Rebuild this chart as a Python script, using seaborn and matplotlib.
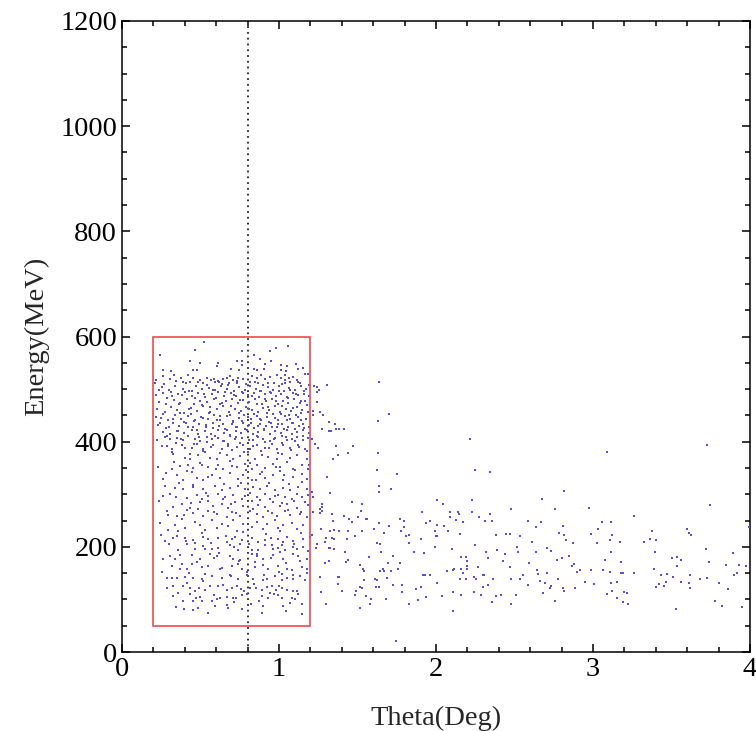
import numpy as np
import pandas as pd
import matplotlib
matplotlib.use("Agg")
import matplotlib.pyplot as plt
import seaborn as sns
from matplotlib.patches import Rectangle
from matplotlib.ticker import MultipleLocator

# ---- data (theta in deg, energy in MeV) ----
box_top = [
    (0.522, 590), (0.244, 565), (0.465, 574), (0.762, 572), (0.981, 579), (1.059, 582),
    (0.944, 572), (0.435, 553), (0.499, 550), (0.613, 550), (0.734, 554), (0.762, 554),
    (0.840, 564), (0.879, 557), (0.911, 548), (0.947, 553), (1.010, 545), (1.049, 544),
    (1.108, 547), (1.119, 538), (1.150, 540), (0.263, 536), (0.312, 535), (0.454, 537),
    (0.480, 536), (0.603, 544), (0.692, 539), (0.743, 537), (0.762, 546), (0.840, 538),
    (0.862, 536), (0.906, 539), (1.010, 537), (1.044, 535), (1.165, 529), (0.216, 517),
    (0.263, 525), (0.333, 526), (0.305, 519), (0.378, 521), (0.418, 526), (0.450, 521),
    (0.497, 518), (0.541, 522), (0.569, 518), (0.588, 520), (0.613, 516), (0.641, 519),
    (0.666, 521), (0.688, 524), (0.705, 518), (0.741, 522), (0.773, 519), (0.826, 524),
    (0.858, 521), (0.885, 527), (0.911, 519), (0.943, 523), (0.985, 527), (1.010, 521),
    (1.038, 518), (1.066, 521), (1.091, 523), (1.112, 518), (1.038, 526), (0.391, 513),
    (0.433, 513), (0.518, 511), (0.592, 513), (0.635, 510), (0.683, 511), (0.730, 511),
    (0.815, 513), (0.868, 512), (0.932, 511), (1.017, 510), (1.070, 513), (1.134, 511),
    (1.187, 529),
]

box_upper = [
    (0.252, 504), (0.301, 499), (0.338, 506), (0.386, 501), (0.427, 497), (0.471, 505),
    (0.509, 500), (0.552, 503), (0.594, 498), (0.629, 505), (0.671, 500), (0.713, 496),
    (0.746, 504), (0.781, 499), (0.818, 506), (0.853, 501), (0.884, 497), (0.927, 504),
    (0.962, 499), (0.998, 505), (1.031, 496), (1.064, 502), (1.102, 498), (1.139, 505),
    (1.171, 500),
    (0.218, 489), (0.263, 493), (0.319, 486), (0.358, 491), (0.402, 494), (0.448, 487),
    (0.486, 492), (0.531, 485), (0.573, 490), (0.612, 494), (0.652, 487), (0.694, 492),
    (0.729, 486), (0.764, 494), (0.803, 488), (0.838, 493), (0.872, 485), (0.909, 490),
    (0.944, 494), (0.981, 487), (1.015, 491), (1.052, 485), (1.087, 493), (1.121, 488),
    (1.158, 491), (1.193, 486),
    (0.237, 476), (0.281, 471), (0.329, 479), (0.372, 474), (0.413, 481), (0.459, 472),
    (0.497, 478), (0.541, 475), (0.583, 481), (0.621, 471), (0.661, 477), (0.703, 482),
    (0.738, 473), (0.773, 479), (0.812, 475), (0.846, 481), (0.893, 471), (0.918, 477),
    (0.953, 482), (0.991, 472), (1.024, 478), (1.058, 474), (1.094, 481), (1.131, 473),
    (1.166, 478),
    (0.226, 463), (0.272, 457), (0.309, 466), (0.349, 460), (0.394, 455), (0.438, 465),
    (0.476, 459), (0.518, 467), (0.562, 456), (0.604, 462), (0.643, 467), (0.681, 457),
    (0.721, 463), (0.756, 458), (0.792, 466), (0.829, 461), (0.864, 456), (0.899, 465),
    (0.936, 460), (0.972, 467), (1.007, 457), (1.043, 463), (1.079, 458), (1.113, 466),
    (1.149, 461), (1.184, 457),
    (0.246, 446), (0.292, 441), (0.336, 450), (0.377, 444), (0.421, 449), (0.464, 441),
    (0.503, 447), (0.547, 443), (0.588, 451), (0.627, 442), (0.667, 448), (0.708, 440),
    (0.742, 446), (0.778, 451), (0.821, 443), (0.857, 449), (0.887, 441), (0.924, 447),
    (0.959, 452), (0.994, 442), (1.036, 448), (1.071, 443), (1.106, 450), (1.143, 441),
    (0.231, 431), (0.279, 426), (0.322, 435), (0.366, 429), (0.407, 436), (0.452, 427),
    (0.492, 433), (0.536, 428), (0.578, 436), (0.618, 430), (0.657, 425), (0.698, 434),
    (0.733, 428), (0.769, 436), (0.807, 431), (0.843, 426), (0.879, 434), (0.914, 429),
    (0.951, 436), (0.986, 427), (1.021, 433), (1.057, 428), (1.092, 435), (1.128, 430),
    (1.162, 426),
    (0.259, 418), (0.306, 414), (0.352, 421), (0.397, 416), (0.443, 422), (0.486, 415),
    (0.527, 420), (0.569, 414), (0.609, 422), (0.648, 417), (0.689, 413), (0.724, 420),
    (0.761, 416), (0.797, 422), (0.834, 414), (0.869, 419), (0.904, 423), (0.941, 415),
    (0.977, 420), (1.013, 416), (1.048, 422), (1.083, 414), (1.117, 419), (1.153, 423),
    (1.188, 416),
]

box_upper_extra = [
    (0.207, 512), (0.233, 498), (0.268, 509), (0.287, 483), (0.314, 494), (0.342, 515),
    (0.361, 472), (0.383, 488), (0.409, 511), (0.425, 462), (0.446, 496), (0.468, 483),
    (0.483, 514), (0.507, 470), (0.523, 491), (0.544, 508), (0.559, 466), (0.577, 499),
    (0.598, 484), (0.616, 513), (0.637, 474), (0.655, 495), (0.676, 508), (0.697, 467),
    (0.716, 489), (0.735, 516), (0.754, 479), (0.772, 493), (0.791, 509), (0.809, 462),
    (0.826, 486), (0.845, 514), (0.861, 471), (0.878, 497), (0.897, 508), (0.913, 482),
    (0.931, 466), (0.949, 493), (0.967, 511), (0.984, 478), (1.003, 496), (1.019, 468),
    (1.038, 512), (1.055, 484), (1.073, 499), (1.089, 464), (1.108, 491), (1.124, 513),
    (1.142, 477), (1.159, 496), (1.177, 469), (1.194, 507),
    (0.214, 447), (0.241, 436), (0.263, 452), (0.297, 428), (0.326, 443), (0.354, 421),
    (0.371, 455), (0.392, 437), (0.418, 427), (0.437, 452), (0.461, 439), (0.479, 423),
    (0.514, 445), (0.533, 432), (0.556, 454), (0.581, 426), (0.603, 441), (0.624, 449),
    (0.646, 433), (0.668, 422), (0.686, 451), (0.706, 438), (0.727, 428), (0.748, 455),
    (0.766, 440), (0.786, 424), (0.804, 447), (0.823, 435), (0.841, 453), (0.866, 429),
    (0.881, 444), (0.903, 424), (0.921, 455), (0.938, 437), (0.957, 428), (0.976, 446),
    (0.996, 434), (1.012, 453), (1.033, 425), (1.049, 441), (1.066, 451), (1.085, 436),
    (1.103, 424), (1.121, 447), (1.138, 455), (1.156, 433), (1.174, 443), (1.191, 428),
    (0.223, 403), (0.256, 391), (0.289, 411), (0.318, 381), (0.346, 398), (0.375, 406),
    (0.404, 388), (0.431, 377), (0.457, 396), (0.488, 409), (0.516, 382), (0.542, 399),
    (0.566, 389), (0.593, 411), (0.622, 379), (0.649, 402), (0.673, 391), (0.702, 384),
    (0.725, 408), (0.753, 397), (0.779, 381), (0.806, 404), (0.833, 392), (0.859, 410),
    (0.884, 383), (0.912, 399), (0.939, 388), (0.966, 405), (0.993, 379), (1.021, 397),
    (1.046, 408), (1.074, 385), (1.101, 401), (1.127, 390), (1.152, 411), (1.181, 383),
]

box_middle = [
    (0.274, 408.8), (0.305, 404.4), (0.348, 406.9), (0.390, 402.5), (0.422, 410.1),
    (0.465, 405.7), (0.497, 400.6), (0.539, 408.8), (0.571, 404.4), (0.613, 406.9),
    (0.645, 400.6), (0.688, 410.1), (0.719, 404.4), (0.762, 406.9), (0.836, 402.5),
    (0.868, 408.8), (0.900, 404.4), (0.943, 400.6), (0.974, 406.9), (1.017, 410.1),
    (1.048, 402.5), (1.080, 405.7), (1.112, 408.8), (1.155, 402.5), (1.186, 406.9),
    (0.284, 391.7), (0.316, 385.4), (0.380, 394.3), (0.443, 387.9), (0.475, 396.2),
    (0.518, 385.4), (0.581, 393.0), (0.634, 386.7), (0.677, 396.2), (0.730, 389.8),
    (0.773, 394.3), (0.815, 385.4), (0.857, 393.0), (0.910, 387.9), (0.953, 396.2),
    (0.985, 385.4), (1.027, 393.0), (1.070, 387.9), (1.123, 394.3), (1.165, 386.7),
    (0.327, 377.2), (0.401, 369.0), (0.433, 366.4), (0.486, 374.0), (0.528, 380.4),
    (0.560, 369.0), (0.603, 366.4), (0.666, 375.3), (0.709, 366.4), (0.751, 372.8),
    (0.804, 380.4), (0.847, 367.7), (0.889, 375.3), (0.932, 370.9), (0.985, 366.4),
    (1.017, 377.2), (1.070, 369.0), (1.112, 374.0), (1.176, 366.4),
    (0.316, 347.4), (0.369, 353.8), (0.422, 356.3), (0.454, 350.0), (0.497, 360.1),
    (0.550, 351.9), (0.613, 356.3), (0.645, 347.4), (0.688, 362.6), (0.730, 351.9),
    (0.783, 358.2), (0.826, 347.4), (0.857, 355.0), (0.910, 350.0), (0.963, 358.2),
    (1.006, 351.9), (1.048, 361.4), (1.091, 348.7), (1.144, 356.3), (1.186, 347.4),
    (0.263, 329.7), (0.348, 337.3), (0.390, 326.5), (0.443, 342.4), (0.475, 331.0),
    (0.518, 326.5), (0.571, 337.3), (0.624, 331.0), (0.688, 341.1), (0.741, 329.7),
    (0.773, 337.3), (0.826, 326.5), (0.879, 339.2), (0.910, 331.0), (0.963, 336.0),
    (1.006, 343.6), (1.027, 326.5), (1.091, 332.9), (1.144, 339.2), (1.176, 328.4),
]

box_lower = [
    (0.274, 315.8), (0.337, 312.0), (0.390, 309.5), (0.454, 313.9), (0.518, 310.8),
    (0.592, 315.2), (0.634, 307.6), (0.688, 312.0), (0.741, 315.2), (0.783, 309.5),
    (0.836, 313.9), (0.879, 309.5), (0.921, 315.2), (0.974, 307.6), (1.027, 312.0),
    (1.070, 307.6), (1.123, 313.9), (1.176, 309.5),
    (0.263, 296.8), (0.305, 301.3), (0.412, 293.0), (0.475, 299.4), (0.507, 290.5),
    (0.550, 296.8), (0.613, 301.3), (0.656, 294.9), (0.709, 299.4), (0.762, 291.8),
    (0.815, 303.2), (0.857, 294.9), (0.910, 301.3), (0.943, 291.8), (0.995, 299.4),
    (1.038, 294.9), (1.080, 291.8), (1.112, 301.3), (1.144, 294.9), (1.186, 298.1),
    (0.327, 276.0), (0.380, 282.3), (0.433, 274.1), (0.497, 285.5), (0.550, 286.7),
    (0.581, 277.9), (0.634, 282.3), (0.677, 274.1), (0.719, 285.5), (0.773, 277.9),
    (0.826, 286.7), (0.868, 280.4), (0.910, 276.0), (0.963, 285.5), (1.006, 277.9),
    (1.048, 282.3), (1.112, 274.1), (1.165, 285.5),
    (0.295, 260.1), (0.348, 258.9), (0.412, 269.6), (0.454, 265.2), (0.518, 258.9),
    (0.550, 267.7), (0.603, 263.3), (0.666, 257.0), (0.698, 266.5), (0.751, 258.9),
    (0.815, 267.7), (0.857, 263.3), (0.900, 257.0), (0.953, 265.2), (0.985, 258.9),
    (1.038, 267.7), (1.070, 260.1), (1.133, 263.3), (1.176, 257.0),
    (0.242, 246.2), (0.295, 231.6), (0.337, 242.4), (0.380, 252.5), (0.401, 236.1),
    (0.465, 247.5), (0.497, 241.1), (0.528, 231.6), (0.571, 250.6), (0.603, 236.1),
    (0.634, 244.3), (0.677, 239.9), (0.709, 250.6), (0.730, 229.7), (0.773, 244.3),
    (0.826, 238.0), (0.857, 247.5), (0.900, 234.8), (0.921, 244.3), (0.974, 250.6),
    (0.995, 236.1), (1.027, 242.4), (1.080, 246.2), (1.112, 233.5), (1.155, 241.1),
    (1.006, 229.7),
]

box_lower_extra = [
    (0.229, 352), (0.278, 341), (0.331, 361), (0.364, 322), (0.417, 345), (0.452, 318),
    (0.509, 355), (0.547, 333), (0.598, 349), (0.651, 319), (0.701, 353), (0.757, 321),
    (0.792, 347), (0.818, 359), (0.852, 328), (0.894, 343), (0.936, 321), (0.978, 352),
    (1.031, 337), (1.063, 319), (1.104, 346), (1.149, 324), (1.189, 355),
    (0.236, 287), (0.285, 269), (0.343, 295), (0.396, 261), (0.441, 283), (0.487, 272),
    (0.534, 303), (0.589, 266), (0.642, 291), (0.694, 281), (0.727, 264), (0.781, 296),
    (0.836, 272), (0.881, 289), (0.927, 268), (0.972, 297), (1.016, 283), (1.059, 271),
    (1.097, 288), (1.139, 267), (1.183, 279),
    (0.248, 222), (0.301, 205), (0.356, 231), (0.408, 212), (0.462, 196), (0.511, 226),
    (0.566, 208), (0.618, 189), (0.662, 221), (0.714, 199), (0.768, 229), (0.812, 206),
    (0.863, 187), (0.916, 224), (0.958, 204), (1.006, 191), (1.052, 218), (1.098, 206),
    (1.142, 227), (1.186, 192),
    (0.261, 176), (0.318, 163), (0.371, 184), (0.426, 151), (0.478, 171), (0.531, 148),
    (0.583, 178), (0.639, 159), (0.693, 144), (0.744, 174), (0.797, 152), (0.849, 171),
    (0.903, 146), (0.947, 178), (0.998, 153), (1.044, 169), (1.087, 147), (1.131, 173),
    (1.177, 151),
    (0.286, 121), (0.357, 112), (0.414, 131), (0.472, 102), (0.527, 118), (0.588, 109),
    (0.646, 128), (0.713, 96), (0.776, 116), (0.838, 129), (0.874, 98), (0.941, 113),
    (1.003, 126), (1.067, 94), (1.124, 111), (0.398, 82), (0.592, 88), (0.823, 91),
    (1.047, 79),
]

box_bottom = [
    (0.274, 210.7), (0.327, 217.0), (0.348, 220.8), (0.401, 216.0), (0.454, 212.6),
    (0.518, 219.0), (0.550, 214.5), (0.613, 217.0), (0.666, 209.4), (0.698, 214.5),
    (0.719, 219.0), (0.762, 212.6), (0.826, 216.0), (0.868, 209.4), (0.910, 212.6),
    (0.947, 217.0), (0.995, 214.5), (1.027, 209.4), (1.091, 210.7), (1.155, 214.5),
    (1.197, 219.0),
    (0.358, 193.6), (0.412, 206.0), (0.465, 208.0), (0.518, 201.8), (0.528, 195.5),
    (0.571, 195.5), (0.613, 198.0), (0.688, 203.0), (0.741, 193.6), (0.751, 206.0),
    (0.826, 193.6), (0.868, 193.6), (0.910, 203.0), (0.963, 195.5), (0.995, 198.0),
    (1.017, 203.0), (1.038, 193.6), (1.091, 200.0), (1.112, 195.5), (1.155, 200.0),
    (0.305, 182.9), (0.337, 177.8), (0.380, 168.3), (0.443, 184.1), (0.497, 176.5),
    (0.560, 187.3), (0.603, 182.9), (0.688, 182.9), (0.709, 176.5), (0.751, 174.6),
    (0.826, 187.3), (0.857, 182.9), (0.900, 177.8), (0.963, 184.1), (1.027, 176.5),
    (1.091, 187.3), (1.123, 182.9), (1.176, 177.8),
    (0.252, 152.5), (0.369, 157.5), (0.412, 157.5), (0.443, 168.3), (0.507, 162.0),
    (0.550, 163.9), (0.624, 158.8), (0.698, 163.9), (0.741, 168.3), (0.762, 158.8),
    (0.847, 162.0), (0.900, 166.4), (0.932, 158.8), (0.995, 163.9), (1.048, 158.8),
    (1.080, 155.6), (1.144, 162.0), (1.176, 157.5),
    (0.284, 141.1), (0.316, 141.1), (0.348, 141.1), (0.401, 143.0), (0.454, 141.1),
    (0.507, 139.8), (0.518, 134.7), (0.571, 144.9), (0.634, 141.1), (0.688, 147.4),
    (0.741, 138.5), (0.794, 147.4), (0.836, 139.8), (0.900, 136.6), (0.921, 138.5),
    (0.974, 144.9), (1.017, 136.6), (1.048, 141.1), (1.091, 139.8), (1.133, 144.9),
    (1.165, 136.6), (1.017, 149.3),
    (0.327, 126), (0.390, 126), (0.433, 121), (0.465, 116), (0.492, 121), (0.560, 126),
    (0.613, 126), (0.666, 118), (0.698, 121), (0.730, 125), (0.755, 120), (0.815, 121),
    (0.853, 121), (0.889, 118), (0.921, 124), (0.953, 125), (0.980, 118), (1.017, 122),
    (1.053, 118), (1.091, 116), (1.112, 116), (0.433, 110), (0.497, 105), (0.327, 107),
    (0.390, 97), (0.454, 97), (0.507, 97), (0.571, 97), (0.603, 101), (0.624, 102),
    (0.671, 105), (0.705, 103), (0.724, 102), (0.762, 108), (0.794, 110), (0.889, 107),
    (0.932, 103), (0.968, 110), (0.995, 108), (1.017, 102), (1.080, 102), (1.102, 101),
    (1.144, 92), (0.344, 86), (0.454, 80), (0.486, 84), (0.550, 75), (0.671, 89),
    (0.677, 84), (0.762, 82), (0.900, 87), (0.894, 75), (1.023, 87), (1.144, 72),
]

tail = [
    (1.225, 505.7), (1.240, 503.2), (1.308, 508.2), (1.257, 498.1), (1.242, 493.7),
    (1.637, 512.6), (1.240, 476.0), (1.218, 458.2), (1.259, 456.3), (1.218, 451.3),
    (1.278, 451.3), (1.702, 451.9), (1.316, 436.7), (1.356, 434.2), (1.630, 438.6),
    (1.276, 424.0), (1.316, 420.2), (1.333, 420.2), (1.365, 424.0), (1.384, 424.0),
    (1.414, 424.0), (1.208, 404.4), (2.216, 404.4), (1.227, 394.9), (1.365, 392.4),
    (1.473, 392.4), (1.250, 387.3), (1.373, 375.3), (1.441, 377.8), (1.630, 377.8),
    (1.341, 367.7), (1.622, 345.5), (2.246, 345.5), (2.346, 343.0), (1.753, 338.0),
    (1.308, 332.9), (1.637, 315.8), (1.713, 310.7), (1.208, 304.4), (1.324, 303.1),
    (1.639, 303.8), (1.218, 294.3), (2.008, 288.6), (2.231, 288.6), (1.465, 286.0),
    (1.273, 281.0), (1.530, 281.0), (2.042, 281.0), (1.273, 275.9), (1.259, 271.5),
    (1.271, 268.9), (1.522, 268.9), (1.218, 266.4), (1.259, 264.5), (1.910, 266.4),
    (2.091, 266.4), (2.142, 266.4), (2.231, 266.4), (1.339, 262.0), (1.411, 258.8),
    (1.448, 253.7), (1.505, 256.9), (1.552, 252.5), (1.562, 252.5), (1.772, 253.7),
    (1.796, 249.3), (2.091, 256.9), (2.148, 262.0), (2.273, 256.9), (2.346, 262.0),
    (2.477, 271.5), (1.341, 249.3), (1.465, 247.4), (1.639, 244.9), (1.934, 244.9),
    (1.959, 249.3), (2.008, 242.4), (2.053, 239.9), (2.125, 251.8), (2.174, 247.4),
    (2.314, 249.3), (2.354, 249.3), (2.588, 249.3), (1.269, 234.8), (1.702, 239.9),
    (1.605, 234.8), (1.794, 237.3), (1.324, 229.7), (1.348, 232.2), (1.382, 229.7),
    (1.439, 229.7), (1.530, 229.7), (1.777, 229.7), (1.991, 229.7), (2.074, 229.7),
    (1.668, 227.2), (2.150, 225.3), (2.380, 222.7), (2.445, 225.3), (2.471, 225.3),
    (1.208, 222.7), (1.830, 222.7), (1.997, 220.2), (2.008, 220.2), (1.301, 217.7),
    (1.335, 217.7), (1.350, 215.1), (1.433, 215.1), (1.482, 220.2), (1.806, 220.2),
    (2.535, 220.2), (1.293, 210.1), (1.242, 205.6), (1.233, 198.0), (1.622, 208.2),
    (1.645, 205.6), (1.828, 208.2), (1.904, 215.1), (1.316, 198.0), (1.324, 198.0),
    (1.352, 195.5), (1.991, 200.6), (2.246, 203.1), (1.422, 191.1), (1.651, 191.1),
    (1.862, 191.1), (1.925, 188.5), (2.101, 195.5), (2.320, 191.1), (2.388, 193.6),
    (2.439, 186.0), (2.513, 200.6), (2.520, 191.1), (1.318, 173.4), (1.293, 168.9),
    (1.424, 171.5), (1.439, 175.9), (1.571, 181.0), (1.728, 182.8), (2.157, 181.0),
    (2.189, 181.0), (2.197, 173.4), (2.333, 178.4), (2.426, 173.4), (1.514, 165.8),
    (1.696, 168.9), (1.770, 168.9), (1.537, 158.2), (1.541, 154.4), (1.645, 154.4),
    (1.664, 158.2), (1.671, 154.4), (1.711, 154.4), (1.760, 158.2), (2.072, 154.4),
    (2.110, 156.3), (2.117, 158.2), (2.157, 158.2), (2.174, 151.2), (2.199, 163.9),
    (2.199, 158.2), (2.265, 161.3), (2.471, 161.3), (2.592, 168.9), (1.261, 143.6),
    (1.375, 143.6), (1.384, 143.6), (1.917, 147.4), (1.930, 146.8), (1.959, 146.1),
    (2.240, 143.6), (2.254, 139.2), (2.299, 146.1), (2.309, 146.1), (2.150, 139.2),
    (2.193, 139.2), (2.365, 139.2), (2.479, 139.2), (2.537, 139.2), (2.552, 146.1),
    (1.543, 136.6), (1.613, 139.2), (1.622, 136.6), (1.690, 141.7), (1.375, 129.0),
    (1.514, 124.0), (1.530, 122.1), (1.620, 124.0), (1.637, 124.0), (1.728, 127.1),
    (1.785, 128.4), (1.902, 124.0), (2.008, 131.6), (2.299, 124.0), (2.333, 127.1),
    (2.588, 127.1), (1.267, 114.5), (1.399, 117.0), (1.488, 117.0), (1.785, 114.5),
    (1.870, 119.5), (2.106, 114.5), (2.157, 109.4), (2.240, 114.5), (2.288, 109.4),
    (2.380, 106.9), (2.411, 109.4), (2.511, 109.4), (1.482, 109.4), (1.554, 106.9),
    (1.588, 101.8), (1.679, 101.8), (1.934, 104.4), (2.040, 106.9), (1.883, 99.3),
    (1.301, 92.3), (1.581, 92.3), (1.830, 92.3), (2.356, 94.9), (2.479, 92.3),
    (1.514, 84.7), (2.108, 77.8), (1.745, 20.8),
    (3.724, 393.0), (3.089, 380.4), (2.817, 306.3), (2.677, 291.1), (3.747, 279.1),
    (2.758, 272.1), (2.974, 274.0), (3.263, 259.5), (3.996, 237.3), (2.669, 246.8),
    (3.057, 246.8), (3.115, 246.8), (2.635, 237.3), (2.809, 239.9), (3.032, 234.8),
    (2.783, 227.2), (2.817, 222.8), (2.989, 225.3), (3.378, 229.7), (3.601, 234.8),
    (3.609, 227.2), (3.626, 222.8), (3.123, 222.8), (2.611, 210.1), (2.826, 212.6),
    (2.875, 207.6), (3.023, 207.6), (3.106, 212.6), (3.172, 210.1), (3.327, 210.1),
    (3.361, 215.2), (3.403, 212.6), (2.709, 198.1), (2.735, 193.0), (2.637, 190.5),
    (3.115, 190.5), (3.395, 190.5), (3.718, 195.5), (3.890, 187.9), (3.501, 178.5),
    (3.535, 181.0), (3.560, 175.9), (2.769, 175.9), (2.800, 178.5), (2.849, 182.9),
    (3.074, 175.9), (3.739, 170.9), (2.868, 163.9), (2.881, 168.3), (3.180, 170.9),
    (3.535, 163.9), (3.849, 165.8), (3.932, 165.8), (3.975, 163.3), (2.645, 155.7),
    (2.900, 153.1), (2.917, 155.7), (2.989, 155.7), (3.066, 155.7), (3.106, 153.1),
    (3.180, 151.2), (3.189, 151.2), (3.263, 151.2), (3.386, 158.2), (2.652, 148.1),
    (2.709, 150.6), (3.435, 146.8), (3.469, 148.1), (3.510, 143.6), (3.618, 146.8),
    (3.898, 146.8), (3.915, 151.2), (2.662, 136.0), (2.694, 131.0), (2.777, 138.6),
    (2.951, 133.5), (3.006, 129.1), (3.115, 131.0), (3.155, 133.5), (3.465, 133.5),
    (3.560, 133.5), (3.684, 138.6), (3.726, 141.1), (3.800, 131.0), (2.732, 126.5),
    (2.728, 121.5), (2.809, 121.5), (2.817, 116.4), (2.883, 121.5), (3.403, 124.0),
    (3.420, 129.1), (3.452, 126.5), (3.609, 131.0), (3.618, 121.5), (3.858, 119.0),
    (2.684, 112.0), (3.089, 109.5), (3.123, 116.4), (3.197, 113.9), (3.214, 112.0),
    (3.155, 101.9), (3.189, 94.3), (3.221, 91.7), (2.758, 96.8), (3.775, 96.8),
    (3.824, 87.3), (3.947, 84.8), (3.526, 81.6),
]

cut_theta = 0.8             # dotted line
cut_box_theta = (0.2, 1.2)  # red selection box
cut_box_energy = (50, 600)

all_points = (box_top + box_upper + box_upper_extra + box_middle + box_lower
              + box_lower_extra + box_bottom + tail)
df = pd.DataFrame(all_points, columns=["theta", "energy"])

sns.set_style("ticks")
plt.rcParams["font.family"] = ["Liberation Serif", "DejaVu Serif"]

fig = plt.figure(figsize=(7.56, 7.31), dpi=100)
ax = fig.add_axes([0.1614, 0.108, 0.8306, 0.8633])

sns.scatterplot(data=df, x="theta", y="energy", ax=ax, marker="s", s=3.5,
                color="#5b4fd0", linewidth=0, legend=False, zorder=3)

ax.axvline(cut_theta, color="#222222", linestyle=(0, (1, 2.2)), linewidth=1.3,
           zorder=2)
ax.add_patch(Rectangle((cut_box_theta[0], cut_box_energy[0]),
                       cut_box_theta[1] - cut_box_theta[0],
                       cut_box_energy[1] - cut_box_energy[0],
                       fill=False, edgecolor="#ee4a4f", linewidth=1.2, zorder=4))

ax.set_xlim(0, 4)
ax.set_ylim(0, 1200)
ax.xaxis.set_major_locator(MultipleLocator(1))
ax.xaxis.set_minor_locator(MultipleLocator(0.2))
ax.yaxis.set_major_locator(MultipleLocator(200))
ax.yaxis.set_minor_locator(MultipleLocator(50))
ax.tick_params(which="both", direction="in", top=True, right=True,
               labelsize=20.5, colors="black", width=1.1)
ax.tick_params(which="major", length=6)
ax.tick_params(which="minor", length=3.5)
for sp in ax.spines.values():
    sp.set_color("black")
    sp.set_linewidth(1.1)

ax.set_xlabel("Theta(Deg)", fontsize=20.5, labelpad=17)
ax.set_ylabel("Energy(MeV)", fontsize=20.5, labelpad=8)

fig.savefig("out.png", dpi=100)
